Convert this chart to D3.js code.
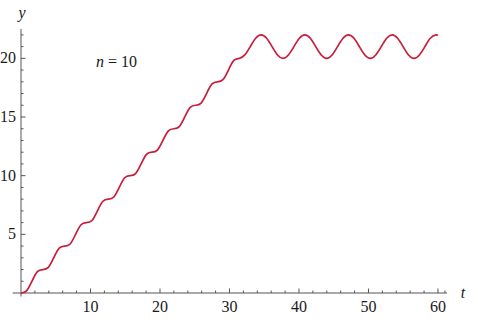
<!DOCTYPE html>
<html>
<head>
<meta charset="utf-8">
<script src="https://cdn.jsdelivr.net/npm/d3@7"></script>
<style>
  body { margin: 0; background: #fff; }
</style>
</head>
<body>
<figure id="plot" style="margin:0"></figure>
<script>
// curve samples (t, y)
const tVals = [0, 0.79, 1.57, 2.36, 3.14, 3.93, 4.71, 5.50, 6.28, 7.07, 7.85, 8.64, 9.42, 10.21, 11.00, 11.78,
  12.57, 13.35, 14.14, 14.92, 15.71, 16.49, 17.28, 18.06, 18.85, 19.63, 20.42, 21.21, 21.99, 22.78, 23.56, 24.35,
  25.13, 25.92, 26.70, 27.49, 28.27, 29.06, 29.85, 30.63, 31.42, 32.20, 32.99, 33.77, 34.56, 35.34, 36.13, 36.91,
  37.70, 38.48, 39.27, 40.06, 40.84, 41.63, 42.41, 43.20, 43.98, 44.77, 45.55, 46.34, 47.12, 47.91, 48.69, 49.48,
  50.27, 51.05, 51.84, 52.62, 53.41, 54.19, 54.98, 55.76, 56.55, 57.33, 58.12, 58.90, 59.69, 60];
const yVals = [0, 0.18, 1, 1.82, 2, 2.18, 3, 3.82, 4, 4.18, 5, 5.82, 6, 6.18, 7, 7.82,
  8, 8.18, 9, 9.82, 10, 10.18, 11, 11.82, 12, 12.18, 13, 13.82, 14, 14.18, 15, 15.82,
  16, 16.18, 17, 17.82, 18, 18.18, 19, 19.82, 20, 20.29, 21, 21.71, 22, 21.71, 21, 20.29,
  20, 20.29, 21, 21.71, 22, 21.71, 21, 20.29, 20, 20.29, 21, 21.71, 22, 21.71, 21, 20.29,
  20, 20.29, 21, 21.71, 22, 21.71, 21, 20.29, 20, 20.29, 21, 21.71, 22, 21.95];

const xMajor = [10, 20, 30, 40, 50, 60];
const xMinor = [2, 4, 6, 8, 12, 14, 16, 18, 22, 24, 26, 28, 32, 34, 36, 38, 42, 44, 46, 48, 52, 54, 56, 58, 61];
const yMajor = [5, 10, 15, 20];
const yMinor = [1, 2, 3, 4, 6, 7, 8, 9, 11, 12, 13, 14, 16, 17, 18, 19, 21, 22];

const width = 478, height = 327;
const serif = "Liberation Serif, Times New Roman, Times, Noto Serif, DejaVu Serif, FreeSerif, serif";

const svg = d3.select("figure#plot")
  .append("svg")
  .attr("width", width)
  .attr("height", height)
  .style("font-family", serif);

const x = d3.scaleLinear().domain([0, 61.3]).range([21, 447]);
const y = d3.scaleLinear().domain([0, 22.5]).range([293, 29]);

const axisColor = "#555";
const textColor = "#1a1a1a";

// x axis line + ticks (pointing up, Mathematica style)
svg.append("line")
  .attr("x1", x(-1.2)).attr("x2", x(61.3))
  .attr("y1", y(0)).attr("y2", y(0))
  .attr("stroke", axisColor).attr("stroke-width", 1);

svg.selectAll("xminor")
  .data(xMinor)
  .enter()
  .append("line")
  .attr("x1", d => x(d)).attr("x2", d => x(d))
  .attr("y1", y(0)).attr("y2", y(0) - 2.5)
  .attr("stroke", axisColor);

svg.selectAll("xmajor")
  .data(xMajor)
  .enter()
  .append("line")
  .attr("x1", d => x(d)).attr("x2", d => x(d))
  .attr("y1", y(0)).attr("y2", y(0) - 4.5)
  .attr("stroke", axisColor);

svg.selectAll("xlab")
  .data(xMajor)
  .enter()
  .append("text")
  .attr("x", d => x(d))
  .attr("y", 312)
  .attr("text-anchor", "middle")
  .style("font-family", serif)
  .style("font-size", "16px")
  .attr("fill", textColor)
  .text(d => d);

// y axis line + ticks (pointing right)
svg.append("line")
  .attr("x1", x(0)).attr("x2", x(0))
  .attr("y1", y(-0.3)).attr("y2", y(22.5))
  .attr("stroke", axisColor).attr("stroke-width", 1);

svg.selectAll("yminor")
  .data(yMinor)
  .enter()
  .append("line")
  .attr("x1", x(0)).attr("x2", x(0) + 2.5)
  .attr("y1", d => y(d)).attr("y2", d => y(d))
  .attr("stroke", axisColor);

svg.selectAll("ymajor")
  .data(yMajor)
  .enter()
  .append("line")
  .attr("x1", x(0)).attr("x2", x(0) + 4.5)
  .attr("y1", d => y(d)).attr("y2", d => y(d))
  .attr("stroke", axisColor);

svg.selectAll("ylab")
  .data(yMajor)
  .enter()
  .append("text")
  .attr("x", 16)
  .attr("y", d => y(d) + 5)
  .attr("text-anchor", "end")
  .style("font-family", serif)
  .style("font-size", "16px")
  .attr("fill", textColor)
  .text(d => d);

// axis names
svg.append("text")
  .attr("x", 22).attr("y", 18)
  .attr("text-anchor", "middle")
  .style("font-family", serif)
  .style("font-size", "16px").style("font-style", "italic")
  .attr("fill", textColor)
  .text("y");

svg.append("text")
  .attr("x", 463).attr("y", 298)
  .attr("text-anchor", "middle")
  .style("font-family", serif)
  .style("font-size", "16px").style("font-style", "italic")
  .attr("fill", textColor)
  .text("t");

// annotation
const ann = svg.append("text")
  .attr("x", 96).attr("y", 67)
  .style("font-family", serif)
  .style("font-size", "16px")
  .attr("fill", textColor);
ann.append("tspan").style("font-style", "italic").text("n");
ann.append("tspan").text(" = 10");

// the curve
const pts = tVals.map((t, i) => [t, yVals[i]]);
const line = d3.line()
  .x(d => x(d[0]))
  .y(d => y(d[1]))
  .curve(d3.curveNatural);

svg.append("path")
  .datum(pts)
  .attr("d", line)
  .attr("fill", "none")
  .attr("stroke", "#c81e3c")
  .attr("stroke-width", 1.7);
</script>
</body>
</html>
